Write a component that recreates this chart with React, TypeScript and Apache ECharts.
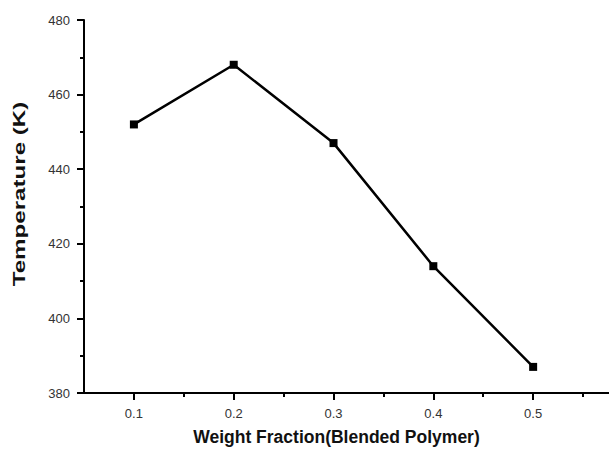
import React, { useEffect, useRef } from "react";
import * as echarts from "echarts";

const weightFraction = [0.1, 0.2, 0.3, 0.4, 0.5];
const temperature = [452, 468, 447, 414, 387];
const xMajorTicks = [0.1, 0.2, 0.3, 0.4, 0.5];
const xMinorTicks = [0.15, 0.25, 0.35, 0.45, 0.55];
const xAxisTitle = "Weight Fraction(Blended Polymer)";
const yAxisTitle = "Temperature (K)";

export default function App() {
  const ref = useRef<HTMLDivElement>(null);
  useEffect(() => {
    if (!ref.current) return;
    const chart = echarts.init(ref.current, null, { renderer: "svg" });
    const font = "'Liberation Sans', Arial, sans-serif";
    chart.setOption({
      animation: false,
      backgroundColor: "#ffffff",
      grid: { left: 84, right: 0, top: 20, bottom: 54, containLabel: false },
      graphic: [
        {
          type: "text",
          x: 19,
          y: 194,
          rotation: Math.PI / 2,
          scaleX: 1.42,
          style: {
            text: yAxisTitle,
            fontSize: 17,
            fontWeight: "bold",
            fill: "#111",
            fontFamily: font,
            align: "center",
            verticalAlign: "middle",
          },
        },
      ],
      xAxis: [
        {
          type: "value",
          min: 0.05,
          max: 0.576,
          position: "bottom",
          axisLine: { show: true, lineStyle: { color: "#000", width: 2 } },
          axisTick: {
            show: true,
            length: 7,
            customValues: xMajorTicks,
            lineStyle: { color: "#000", width: 2 },
          },
          axisLabel: {
            show: true,
            customValues: xMajorTicks,
            margin: 14,
            fontSize: 13,
            color: "#333",
            fontFamily: font,
            formatter: (v: number) => v.toFixed(1),
          },
          splitLine: { show: false },
          name: xAxisTitle,
          nameLocation: "middle",
          nameGap: 35,
          nameTextStyle: {
            fontSize: 17.5,
            fontWeight: "bold",
            color: "#111",
            fontFamily: font,
            padding: [0, 20, 0, 0],
          },
        },
        {
          type: "value",
          min: 0.05,
          max: 0.576,
          position: "bottom",
          axisLine: { show: false },
          axisTick: {
            show: true,
            length: 4,
            customValues: xMinorTicks,
            lineStyle: { color: "#000", width: 2 },
          },
          axisLabel: { show: false },
          splitLine: { show: false },
        },
      ],
      yAxis: {
        type: "value",
        min: 380,
        max: 480,
        interval: 20,
        axisLine: { show: true, lineStyle: { color: "#000", width: 2 } },
        axisTick: { show: true, length: 7, lineStyle: { color: "#000", width: 2 } },
        minorTick: { show: true, splitNumber: 2, length: 4, lineStyle: { color: "#000", width: 2 } },
        axisLabel: {
          margin: 14,
          fontSize: 13,
          color: "#333",
          fontFamily: font,
        },
        splitLine: { show: false },
      },
      series: [
        {
          type: "line",
          xAxisIndex: 0,
          data: weightFraction.map((x, i) => [x, temperature[i]]),
          symbol: "rect",
          symbolSize: 8,
          itemStyle: { color: "#000" },
          lineStyle: { color: "#000", width: 2.5 },
        },
      ],
    });
    return () => chart.dispose();
  }, []);
  return (
    <div
      ref={ref}
      style={{ position: "fixed", left: 0, top: 0, width: 609, height: 451, background: "#fff" }}
    />
  );
}
